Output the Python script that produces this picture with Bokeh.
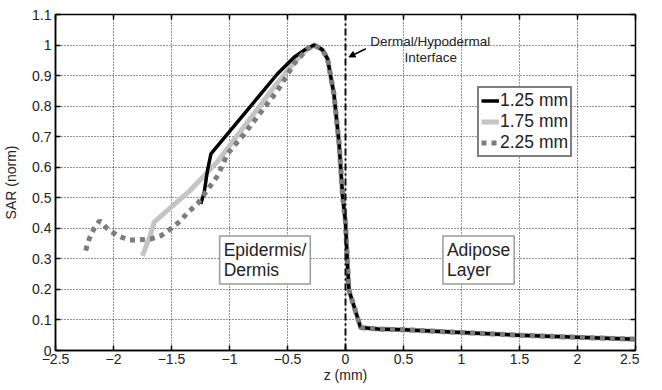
from bokeh.plotting import figure
from bokeh.models import (Legend, LegendItem, Label, Arrow, NormalHead, LinearAxis,
                          FixedTicker, CustomJSTickFormatter, Range1d)
from bokeh.embed import file_html
from bokeh.resources import INLINE

# ---- data ----
z_125 = [-1.247, -1.218, -1.19, -1.16, -1.017, -0.873, -0.73, -0.586, -0.443, -0.35,
         -0.27, -0.2, -0.155, -0.10, -0.055, -0.026, 0.0, 0.017, 0.03, 0.13, 0.28, 0.5, 1.0, 1.5, 2.0, 2.5]
y_125 = [0.48, 0.518, 0.589, 0.644, 0.709, 0.775, 0.84, 0.906, 0.96, 0.985,
         1.0, 0.985, 0.955, 0.84, 0.676, 0.51, 0.42, 0.283, 0.197, 0.075, 0.07, 0.068, 0.059, 0.05, 0.043, 0.037]

z_175 = [-1.75, -1.68, -1.65, -1.5, -1.35, -1.25, -1.1, -1.0, -0.8, -0.6, -0.45, -0.35,
         -0.27, -0.2, -0.155, -0.10, -0.055, -0.026, 0.0, 0.017, 0.03, 0.13, 0.28, 0.5, 1.0, 1.5, 2.0, 2.5]
y_175 = [0.31, 0.38, 0.42, 0.47, 0.52, 0.56, 0.62, 0.67, 0.77, 0.87, 0.94, 0.98,
         1.0, 0.985, 0.955, 0.84, 0.676, 0.51, 0.42, 0.283, 0.197, 0.075, 0.07, 0.068, 0.059, 0.05, 0.043, 0.037]

z_225 = [-2.24, -2.21, -2.17, -2.12, -2.05, -1.966, -1.866, -1.78, -1.68, -1.59, -1.506, -1.42,
         -1.36, -1.276, -1.175, -1.10, -1.017, -0.873, -0.73, -0.586, -0.443, -0.328,
         -0.27, -0.2, -0.155, -0.10, -0.055, -0.026, 0.0, 0.017, 0.03, 0.13, 0.28, 0.5, 1.0, 1.5, 2.0, 2.5]
y_225 = [0.327, 0.365, 0.398, 0.425, 0.398, 0.376, 0.362, 0.362, 0.365, 0.376, 0.398, 0.425,
         0.452, 0.48, 0.534, 0.573, 0.644, 0.709, 0.78, 0.851, 0.939, 0.988,
         1.0, 0.985, 0.955, 0.84, 0.676, 0.51, 0.42, 0.283, 0.197, 0.075, 0.07, 0.068, 0.059, 0.05, 0.043, 0.037]

x_ticks = [-2.5, -2, -1.5, -1, -0.5, 0, 0.5, 1, 1.5, 2, 2.5]
y_ticks = [0, 0.1, 0.2, 0.3, 0.4, 0.5, 0.6, 0.7, 0.8, 0.9, 1, 1.1]
series_labels = ["1.25 mm", "1.75 mm", "2.25 mm"]
interface_z = 0.0

FONT = "Liberation Sans"

p = figure(frame_width=580, frame_height=336, output_backend="svg", toolbar_location=None,
           x_range=Range1d(-2.5, 2.5), y_range=Range1d(0, 1.1),
           min_border_left=50, min_border_right=4, min_border_top=9, min_border_bottom=30)
p.background_fill_color = "white"
p.border_fill_color = "white"
p.outline_line_color = "black"
p.outline_line_width = 1.5

# grid
for g in (p.xgrid, p.ygrid):
    g.grid_line_color = "black"
    g.grid_line_dash = "1 2"
    g.grid_line_width = 1
    g.grid_line_alpha = 0.85
p.xgrid.ticker = FixedTicker(ticks=x_ticks)
p.ygrid.ticker = FixedTicker(ticks=y_ticks)

# axes
for ax in (p.xaxis[0], p.yaxis[0]):
    ax.major_tick_in = 5
    ax.major_tick_out = 0
    ax.minor_tick_in = 0
    ax.minor_tick_out = 0
    ax.axis_line_color = "black"
    ax.axis_line_width = 1.5
    ax.major_tick_line_width = 1.5
    ax.major_label_text_font = FONT
    ax.major_label_text_font_size = "14px"
    ax.major_label_text_color = "#222222"
    ax.axis_label_text_font = FONT
    ax.axis_label_text_font_size = "14px"
    ax.axis_label_text_font_style = "normal"
    ax.axis_label_text_color = "#222222"
p.xaxis[0].ticker = FixedTicker(ticks=x_ticks)
p.yaxis[0].ticker = FixedTicker(ticks=y_ticks)
p.xaxis[0].axis_label = "z (mm)"
p.yaxis[0].axis_label = "SAR (norm)"
p.xaxis[0].major_label_standoff = 3
p.xaxis[0].axis_label_standoff = 0
p.yaxis[0].major_label_standoff = 4
p.yaxis[0].axis_label_standoff = 10
p.yaxis[0].formatter = CustomJSTickFormatter(code="return (Math.round(tick*10)/10).toString();")

# top / right tick-only axes (blank labels keep a little room above the frame)
blank = CustomJSTickFormatter(code="return ' ';")
top = LinearAxis(ticker=FixedTicker(ticks=x_ticks), formatter=blank,
                 major_tick_in=5, major_tick_out=0, minor_tick_in=0, minor_tick_out=0,
                 axis_line_color=None, major_tick_line_width=1.5, major_label_standoff=6,
                 major_label_text_font_size="4px", major_label_text_color="white")
right = LinearAxis(ticker=FixedTicker(ticks=y_ticks), formatter=CustomJSTickFormatter(code="return '';"),
                   major_tick_in=5, major_tick_out=0, minor_tick_in=0, minor_tick_out=0,
                   axis_line_color=None, major_tick_line_width=1.5, major_label_standoff=2,
                   major_label_text_font_size="1px")
p.add_layout(top, "above")
p.add_layout(right, "right")

# series
r175 = p.line(z_175, y_175, line_color="#c4c4c4", line_width=5, line_join="round")
r125 = p.line(z_125, y_125, line_color="black", line_width=3.5, line_join="round")
r225 = p.line(z_225, y_225, line_color="#7d7d7d", line_width=5, line_dash="5 5")

# interface line
p.line([interface_z, interface_z], [0, 1.1], line_color="#111111", line_width=2, line_dash="7 3 2 3")

legend = Legend(items=[LegendItem(label=series_labels[0], renderers=[r125]),
                       LegendItem(label=series_labels[1], renderers=[r175]),
                       LegendItem(label=series_labels[2], renderers=[r225])],
                location=(422, 193))
legend.label_text_font = FONT
legend.label_text_font_size = "17.5px"
legend.label_text_color = "#222222"
legend.glyph_width = 18
legend.glyph_height = 21
legend.label_height = 21
legend.label_standoff = 1
legend.spacing = 0
legend.padding = 2
legend.margin = 0
legend.border_line_color = "black"
legend.border_line_width = 2
legend.background_fill_color = "white"
legend.background_fill_alpha = 1
p.add_layout(legend)

# region labels
for txt, zx in (("Epidermis/\nDermis", -1.085), ("Adipose\nLayer", 0.84)):
    p.add_layout(Label(x=zx, y=0.375, text=txt, text_font=FONT, text_font_size="17.5px",
                       text_line_height=1.0,
                       text_color="#222222", text_baseline="top", text_align="left",
                       border_line_color="#999999", border_line_width=1.5,
                       background_fill_color="white", padding=4))

# annotation
p.add_layout(Label(x=0.73, y=1.013, text="Dermal/Hypodermal", text_font=FONT,
                   text_font_size="13.5px", text_color="#222222",
                   text_align="center", text_baseline="middle"))
p.add_layout(Label(x=0.735, y=0.958, text="Interface", text_font=FONT,
                   text_font_size="13.5px", text_color="#222222",
                   text_align="center", text_baseline="middle"))
p.add_layout(Arrow(x_start=0.175, y_start=0.988, x_end=0.03, y_end=0.961,
                   line_color="black", line_width=1.5,
                   end=NormalHead(size=6, fill_color="black", line_color="black")))

open("out.html", "w").write(file_html(p, INLINE))
